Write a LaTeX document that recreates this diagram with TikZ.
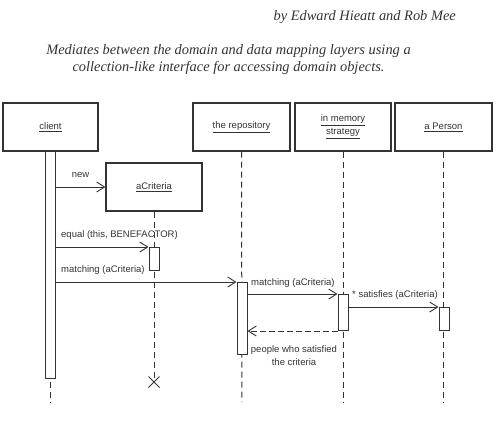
\documentclass[tikz,border=0pt]{standalone}
\usepackage{fontspec}
\setmainfont{Liberation Serif}
\newfontfamily\diagfont{Liberation Sans}
\usetikzlibrary{arrows.meta,shapes.misc}
\definecolor{ink}{HTML}{333333}
\begin{document}
\begin{tikzpicture}[x=1pt,y=-1pt,
  every node/.style={text=ink},
  lbl/.style={font=\diagfont\fontsize{9.5}{11.5}\selectfont, inner sep=0pt},
  party/.style={draw=ink, line width=1.1pt, fill=white, minimum height=48pt, inner sep=0pt, align=center, font=\diagfont\fontsize{9.5}{13}\selectfont},
  actbar/.style={draw=ink, line width=1pt, fill=white, minimum width=10pt, inner sep=0pt, anchor=north},
  life/.style={draw=ink, line width=1pt, dash pattern=on 6pt off 4pt},
  msg/.style={draw=ink, line width=1pt, -{Straight Barb[length=8pt,width=10pt,line width=0.9pt]}},
  ret/.style={msg, dash pattern=on 6pt off 3pt},
  title/.style={font=\itshape\fontsize{14.4}{17}\selectfont, inner sep=0pt}]
\useasboundingbox (0,0) rectangle (500,439);

% titles
\node[title, anchor=east] (by) at (456,17) {by Edward Hieatt and Rob Mee};
\node[title, align=center] (intent) at (228.5,60) {Mediates between the domain and data mapping layers using a\\collection-like interface for accessing domain objects.};

% participants
\node[party, minimum width=95pt] (client) at (50.5,127) {\underline{client}};
\node[party, minimum width=97pt] (repo) at (241.5,127) {\underline{the repository}};
\node[party, minimum width=96pt] (mem) at (343,127) {\underline{in memory}\\\underline{strategy}};
\node[party, minimum width=97pt] (person) at (443.5,127) {\underline{a Person}};
\node[party, minimum width=96pt] (crit) at (154,187) {\underline{aCriteria}};

% lifeline ends
\coordinate (clientEnd) at (50.5,402);
\coordinate (repoEnd) at (242,402);
\coordinate (memEnd) at (343,402);
\coordinate (personEnd) at (443.5,402);
\node[cross out, draw=ink, line width=1pt, minimum size=10pt, inner sep=0pt] (critEnd) at (154,382) {};

% lifelines
\draw[life] (client.south) -- (clientEnd);
\draw[life] (repo.south) -- (repoEnd);
\draw[life] (mem.south) -- (memEnd);
\draw[life] (person.south) -- (personEnd);
\draw[life] (crit.south) -- (critEnd.center);

% activation bars
\node[actbar, minimum height=227pt] (clientAct) at (50.5,151) {};
\node[actbar, minimum height=23pt] (critAct) at (154,247) {};
\node[actbar, minimum height=72pt] (repoAct) at (242,282) {};
\node[actbar, minimum height=36pt] (memAct) at (343,294) {};
\node[actbar, minimum height=23pt] (personAct) at (444,307) {};

% messages
\draw[msg] (clientAct.east |- crit.west) -- (crit.west);
\node[lbl] (newL) at (80.5,175) {new};

\draw[msg] (clientAct.east |- critAct.north) -- (critAct.north west);
\node[lbl, anchor=west] (equalL) at (61,235.5) {equal (this, BENEFACTOR)};

\draw[msg] (clientAct.east |- repoAct.north) -- (repoAct.north west);
\node[lbl, anchor=west] (matchL) at (61,270.5) {matching (aCriteria)};

\draw[msg] (repoAct.east |- memAct.north) -- (memAct.north west);
\node[lbl, anchor=west] (match2L) at (251,283) {matching (aCriteria)};

\draw[msg] (memAct.east |- personAct.north) -- (personAct.north west);
\node[lbl, anchor=west] (satL) at (352,295.5) {* satisfies (aCriteria)};

\draw[ret] (memAct.south west) -- (repoAct.east |- memAct.south);
\node[lbl, align=center, font=\diagfont\fontsize{9.5}{12.5}\selectfont] (retL) at (294,355.5) {people who satisfied\\the criteria};
\end{tikzpicture}
\end{document}
